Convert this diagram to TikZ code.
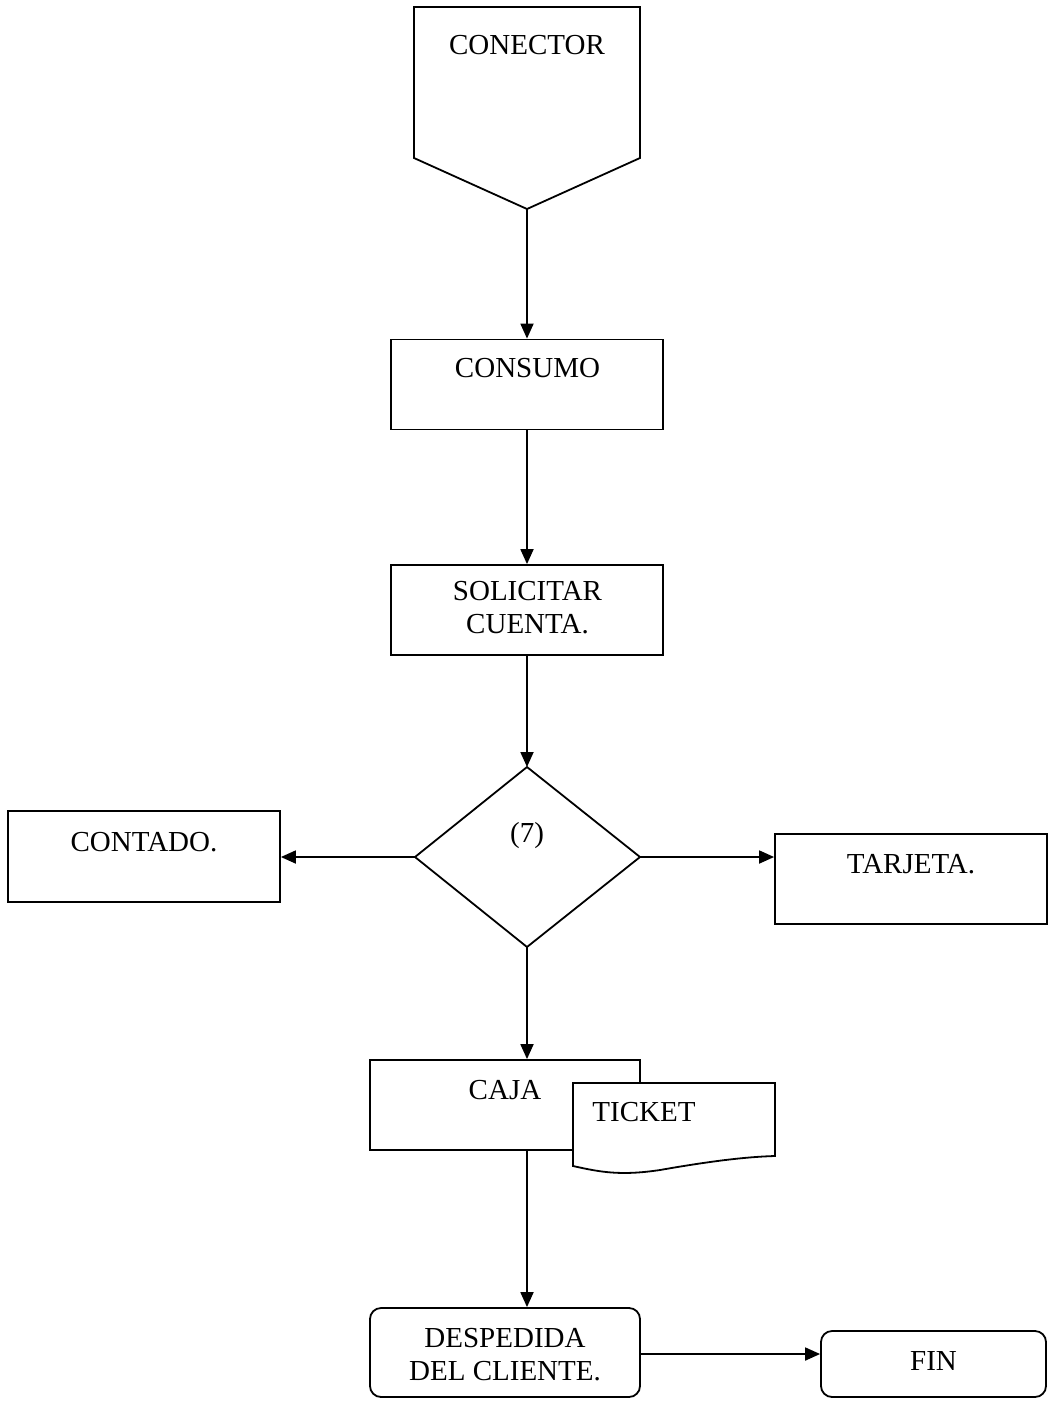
\documentclass[tikz,border=0pt]{standalone}
\usepackage{fontspec}
\setmainfont{Liberation Serif}
\usetikzlibrary{arrows.meta}
\begin{document}
\begin{tikzpicture}[x=1pt,y=-1pt,
  every node/.style={font=\fontsize{29}{33}\selectfont},
  shp/.style={draw=black,line width=1.8pt,fill=white},
  boxnode/.style={shp,rectangle,inner sep=0pt,minimum width=272pt,minimum height=90pt},
  rbox/.style={boxnode,rounded corners=11pt},
  txt/.style={inner sep=0pt,align=center},
  conn/.style={line width=1.8pt,-{Triangle[length=15pt,width=13pt]}},
  plain/.style={line width=1.8pt}]
\useasboundingbox[fill=white] (0,0) rectangle (1050,1406);
% connector (off-page)
\draw[shp,line join=miter] (414,7) -- (640,7) -- (640,158) -- (527,209) -- (414,158) -- cycle;
\coordinate (conpt) at (527,209);
\node[txt] (tcon) at (527,45) {CONECTOR};
% consumo
\node[boxnode] (consumo) at (527,384.5) {};
\node[txt] (tconsumo) at (527.5,368) {CONSUMO};
% solicitar
\node[boxnode] (solicitar) at (527,610) {};
\node[txt] (tsol) at (527.5,608) {SOLICITAR\\CUENTA.};
% decision
\coordinate (dtop) at (527,767);
\coordinate (dleft) at (415,857);
\coordinate (dright) at (640,857);
\coordinate (dbot) at (527,947);
\draw[shp,line join=miter] (dtop) -- (dright) -- (dbot) -- (dleft) -- cycle;
\node[txt] (t7) at (527,836) {(7)};
% contado
\node[boxnode,minimum height=91pt] (contado) at (144,856.5) {};
\node[txt] (tcont) at (144,842) {CONTADO.};
% tarjeta
\node[boxnode] (tarjeta) at (911,879) {};
\node[txt] (ttar) at (911,864) {TARJETA.};
% caja
\node[boxnode,minimum width=270pt] (caja) at (505,1105) {};
\node[txt] (tcaja) at (505,1090) {CAJA};
% ticket document
\draw[shp] (573,1083) -- (775,1083) -- (775,1156)
  .. controls (740,1157) and (700,1163) .. (660,1170)
  .. controls (620,1176) and (600,1172) .. (573,1166) -- cycle;
\node[txt] (tticket) at (644,1112) {TICKET};
% despedida
\node[rbox,minimum width=270pt,minimum height=89pt] (desp) at (505,1352.5) {};
\node[txt] (tdesp) at (505,1355) {DESPEDIDA\\DEL CLIENTE.};
% fin
\node[rbox,minimum width=225pt,minimum height=66pt] (fin) at (933.5,1364) {};
\node[txt] (tfin) at (933.5,1361) {FIN};
% connectors
\draw[conn] (conpt) -- (conpt |- consumo.north);
\draw[conn] (consumo.south) -- (solicitar.north);
\draw[conn] (solicitar.south) -- (dtop);
\draw[conn] (dleft) -- (contado.east |- dleft);
\draw[conn] (dright) -- (tarjeta.west |- dright);
\draw[conn] (dbot) -- (dbot |- caja.north);
\draw[conn] (dbot |- caja.south) -- (dbot |- desp.north);
\draw[conn] (desp.east |- 0,1354) -- (fin.west |- 0,1354);
\end{tikzpicture}
\end{document}
